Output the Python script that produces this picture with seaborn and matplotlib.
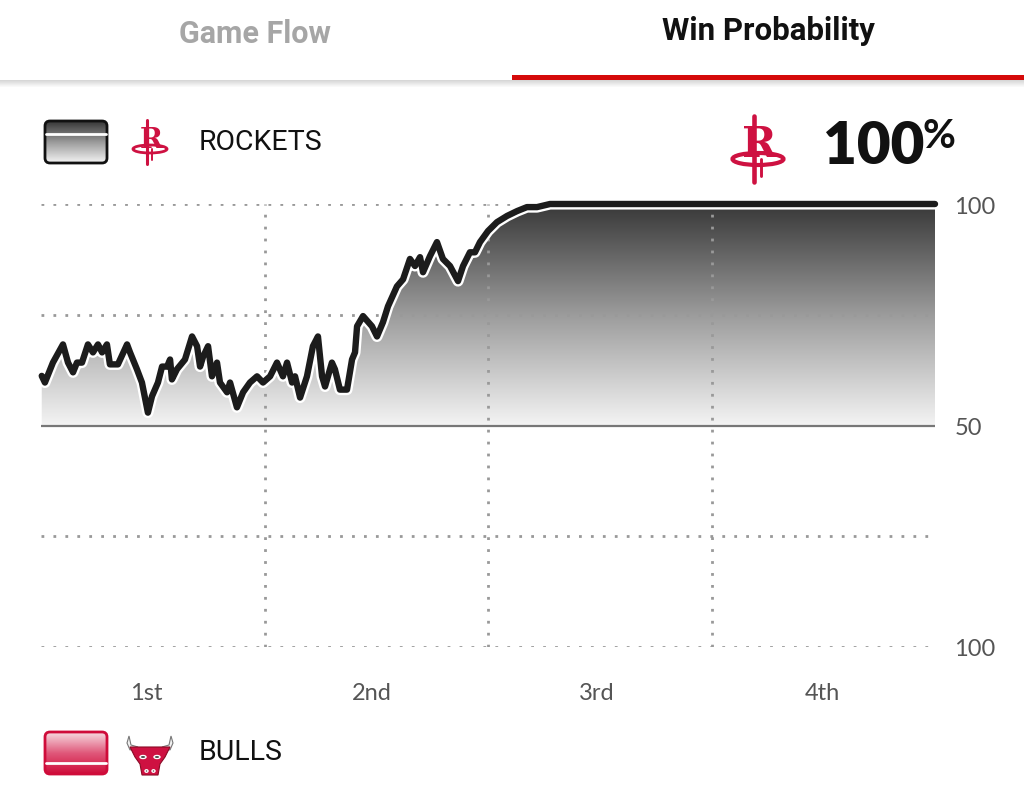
import numpy as np
import pandas as pd
import matplotlib.pyplot as plt
import matplotlib.patheffects as pe
from matplotlib.colors import LinearSegmentedColormap
from matplotlib.patches import FancyBboxPatch, Ellipse, Polygon, Rectangle
import seaborn as sns

# === data ===
# game minute -> Rockets win probability (%)
minutes = [0.04, 0.21, 0.64, 1.18, 1.45, 1.72, 1.93, 2.20, 2.52, 2.79, 3.06, 3.28,
           3.54, 3.70, 4.13, 4.62, 4.78, 5.15, 5.42, 5.74, 5.96, 6.28, 6.50, 6.77,
           6.93, 7.03, 7.30, 7.73, 8.11, 8.38, 8.54, 8.70, 8.97, 9.18, 9.45, 9.61,
           9.99, 10.15, 10.52, 10.85, 11.22, 11.60, 11.92, 12.30, 12.67, 12.99, 13.21,
           13.48, 13.64, 13.91, 14.28, 14.60, 14.87, 15.09, 15.25, 15.62, 15.78, 16.05,
           16.43, 16.70, 16.86, 16.97, 17.29, 17.77, 18.04, 18.36, 18.63, 19.11, 19.44,
           19.81, 20.08, 20.35, 20.51, 20.88, 21.26, 21.58, 21.96, 22.39, 22.66, 23.03,
           23.30, 23.57, 24.00, 24.48, 25.02, 25.56, 26.09, 26.63, 27.33, 48.0]
rockets_wp = [61.2, 59.7, 64.2, 68.3, 64.2, 62.0, 64.2, 64.2, 68.3, 66.5, 68.3, 66.5,
              68.3, 63.8, 63.8, 68.3, 66.5, 62.7, 59.7, 52.9, 56.6, 59.7, 63.3, 63.3,
              64.9, 60.4, 62.7, 64.9, 70.1, 67.9, 63.3, 65.5, 67.9, 61.1, 64.2, 59.7,
              57.5, 59.7, 54.1, 57.5, 59.7, 61.1, 59.7, 61.1, 64.2, 61.1, 64.2,
              59.7, 61.1, 56.3, 61.1, 67.9, 70.1, 61.1, 58.8, 64.2, 62.7, 58.1,
              58.1, 64.9, 66.5, 72.4, 74.7, 72.4, 70.1, 73.3, 76.9, 81.4, 83.0,
              87.6, 86.0, 88.0, 84.6, 88.2, 91.4, 87.6, 86.0, 82.6, 86.0, 89.1,
              89.1, 91.4, 93.9, 95.9, 97.3, 98.4, 99.3, 99.3, 100.0, 100.0]
quarter_labels = ["1st", "2nd", "3rd", "4th"]
quarter_label_pos = [5.64, 17.77, 29.85, 41.93]
quarter_breaks = [12, 24, 36]
y_ticks = [0, 50, 100]
y_tick_labels = ["100", "50", "100"]
home_team = "ROCKETS"
away_team = "BULLS"
final_wp = "100"

df = pd.DataFrame({"minute": minutes, "wp": rockets_wp})

sns.set_theme(style="white")
plt.rcParams["lines.scale_dashes"] = False
plt.rcParams["font.family"] = ["Roboto", "DejaVu Sans"]

fig = plt.figure(figsize=(10.24, 8.04), dpi=100)
fig.patch.set_facecolor("white")

# overlay in pixel coords for the header / legend bits
ov = fig.add_axes([0, 0, 1, 1], zorder=0)
ov.set_xlim(0, 1024)
ov.set_ylim(804, 0)
ov.axis("off")

# tab bar with a soft shadow
for i, a in enumerate(np.linspace(0.45, 0.0, 9)):
    ov.add_patch(Rectangle((0, 80 + i), 1024, 1, color="#000000", alpha=a * 0.4, lw=0))
ov.add_patch(Rectangle((0, 0), 1024, 80.5, color="white", lw=0))
ov.add_patch(Rectangle((512, 76), 512, 5, color="#d50a0a", lw=0))
ov.text(255, 34, "Game Flow", ha="center", va="center", fontsize=22,
        fontweight="bold", color="#a6a6a6")
ov.text(768, 31, "Win Probability", ha="center", va="center", fontsize=22.5,
        fontweight="bold", color="#111111")


def legend_box(x, y, cmap, edge, split):
    grad = np.linspace(0, 1, 128).reshape(-1, 1)
    box = FancyBboxPatch((x, y), 62, 42, boxstyle="round,pad=0,rounding_size=5",
                         fc="none", ec=edge, lw=2, zorder=3)
    ov.add_patch(box)
    im = ov.imshow(grad, extent=[x, x + 62, y + 42, y], cmap=cmap, aspect="auto", zorder=2)
    im.set_clip_path(box)
    ov.plot([x + 1, x + 61], [split, split], color="white", lw=2, zorder=4)


grey_cmap = LinearSegmentedColormap.from_list("g", ["#363636", "#9a9a9a", "#f4f4f4"])
red_cmap = LinearSegmentedColormap.from_list("r", ["#f6dbe1", "#e0587a", "#cf0c3a"])
legend_box(45, 122, grey_cmap, "#111111", 135)
legend_box(45, 733, red_cmap, "#cf0c3a", 764)
ov.set_xlim(0, 1024)
ov.set_ylim(804, 0)


def rockets_logo(cx, cy, s):
    ov.text(cx + 1 * s, cy - 2 * s, "R", ha="center", va="center", fontsize=20 * s,
            fontweight="bold", family="DejaVu Serif", color="#ce1141", zorder=5)
    ov.plot([cx - 3 * s, cx - 3 * s], [cy - 21 * s, cy + 23 * s], color="#ce1141",
            lw=2.2 * s, zorder=5)
    ov.plot([cx + 2 * s, cx + 2 * s], [cy + 8 * s, cy + 19 * s], color="#ce1141",
            lw=1.4 * s, zorder=5)
    ov.add_patch(Ellipse((cx, cy + 8 * s), 34 * s, 8 * s, fc="none", ec="#ce1141",
                         lw=2 * s, zorder=6))


rockets_logo(150, 142, 1.0)
rockets_logo(758, 148, 1.5)

# bulls head
cx, cy = 150, 757
face = [(-20, -9), (20, -9), (15, 1), (10, 8), (8, 19), (-8, 19), (-10, 8), (-15, 1)]
ov.add_patch(Polygon([(cx + a, cy + b) for a, b in face], fc="#ce1141", ec="#8a0a25",
                     lw=0.8, zorder=5))
for sgn in (-1, 1):
    horn = [(sgn * 12, -9), (sgn * 19, -11), (sgn * 21, -20), (sgn * 23, -13), (sgn * 20, -6)]
    ov.add_patch(Polygon([(cx + a, cy + b) for a, b in horn], fc="#f2f2f2", ec="#777777",
                         lw=0.8, zorder=4))
    ov.add_patch(Ellipse((cx + sgn * 7, cy + 1), 6, 3, fc="#222222", zorder=6))
    ov.add_patch(Ellipse((cx + sgn * 3.5, cy + 15), 3, 2.5, fc="#222222", zorder=6))

ov.text(199, 142, home_team, ha="left", va="center", fontsize=20.5, color="#111111")
ov.text(199, 753, away_team, ha="left", va="center", fontsize=20.5, color="#111111")
ov.text(823, 146, final_wp, ha="left", va="center", fontsize=42, fontweight="heavy",
        family=["Lato", "DejaVu Sans"], color="#111111")
ov.text(923, 136, "%", ha="left", va="center", fontsize=29, fontweight="bold",
        family=["Lato", "DejaVu Sans"], color="#111111")

# === chart ===
ax = fig.add_axes([41 / 1024, (804 - 648) / 804, 894 / 1024, (648 - 205) / 804], zorder=1)
ax.patch.set_alpha(0)

# gradient fill between the line and 50
poly = ax.fill_between(df["minute"], 50, df["wp"], color="none", lw=0)
fill_cmap = LinearSegmentedColormap.from_list("f", ["#f4f4f4", "#9c9c9c", "#383838"])
grad = np.linspace(0, 1, 256).reshape(-1, 1)
im = ax.imshow(grad, extent=[0, 48, 50, 100], origin="lower", cmap=fill_cmap,
               aspect="auto", zorder=1)
im.set_clip_path(poly.get_paths()[0], ax.transData)

# dotted grid
for y in [0, 25, 75, 100]:
    ax.plot([0, 47.6], [y, y], color="#999999", lw=2, ls=(0, (2, 6.6)), zorder=2)
for x in quarter_breaks:
    ax.axvline(x, color="#999999", lw=2, ls=(0, (2, 6.6)), zorder=2)
ax.axhline(50, color="#777777", lw=1.6, zorder=3)

sns.lineplot(data=df, x="minute", y="wp", ax=ax, color="#1c1c1c", lw=4.6, zorder=4,
             estimator=None, sort=False)
ln = ax.lines[-1]
ln.set_clip_on(False)
ln.set_path_effects([pe.Stroke(linewidth=8, foreground="white"), pe.Normal()])

ax.set_xlim(0, 48)
ax.set_ylim(0, 100)
for s in ax.spines.values():
    s.set_visible(False)
ax.yaxis.tick_right()
ax.set_yticks(y_ticks)
ax.set_yticklabels(y_tick_labels)
ax.set_xticks(quarter_label_pos)
ax.set_xticklabels(quarter_labels)
ax.tick_params(axis="y", length=0, pad=14, labelsize=17, labelcolor="#555555")
ax.tick_params(axis="x", length=0, pad=25, labelsize=17, labelcolor="#555555")
for t in ax.get_xticklabels() + ax.get_yticklabels():
    t.set_family(["Lato", "DejaVu Sans"])
ax.set_xlabel("")
ax.set_ylabel("")

fig.savefig("out.png", dpi=100, facecolor="white")
